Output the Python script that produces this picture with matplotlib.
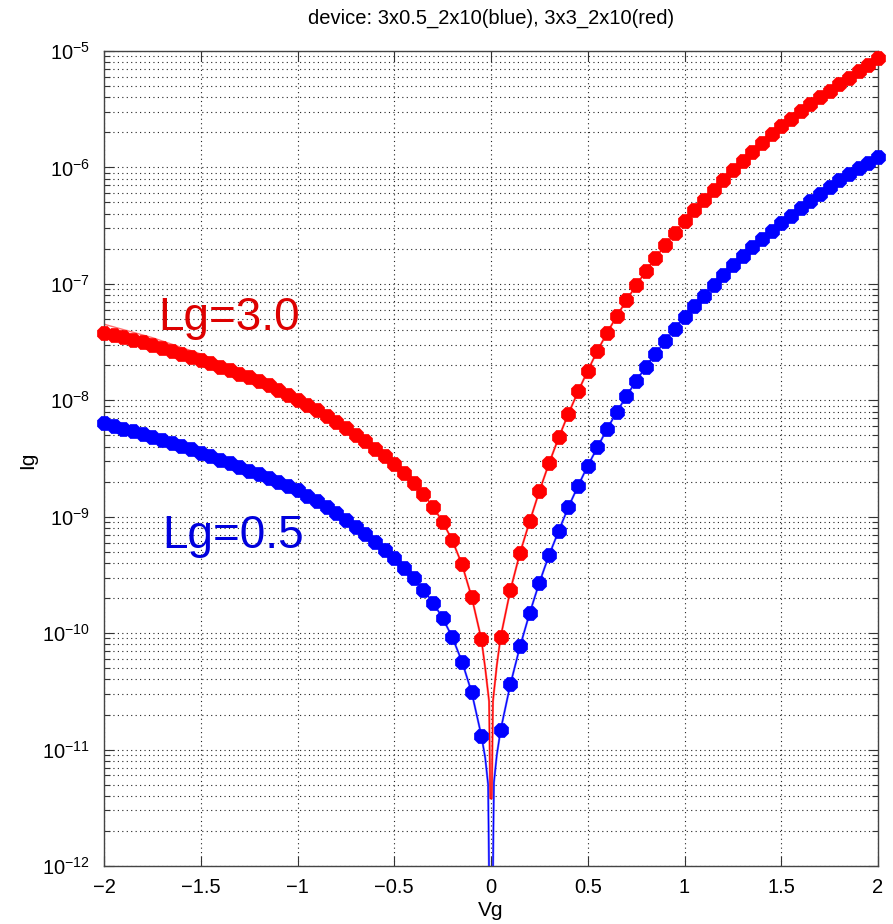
import numpy as np
import matplotlib
matplotlib.use('Agg')
import matplotlib.pyplot as plt
from matplotlib.ticker import LogLocator, FixedLocator, FixedFormatter, NullFormatter

plt.rcParams['font.family'] = ['Liberation Sans', 'DejaVu Sans']
plt.rcParams['mathtext.fontset'] = 'custom'
plt.rcParams['mathtext.rm'] = 'Liberation Sans'
plt.rcParams['mathtext.it'] = 'Liberation Sans:italic'

# gate voltage, negative and positive branches (0 V not measured)
vg_neg = [-2.00, -1.95, -1.90, -1.85, -1.80, -1.75, -1.70, -1.65, -1.60, -1.55,
          -1.50, -1.45, -1.40, -1.35, -1.30, -1.25, -1.20, -1.15, -1.10, -1.05,
          -1.00, -0.95, -0.90, -0.85, -0.80, -0.75, -0.70, -0.65, -0.60, -0.55,
          -0.50, -0.45, -0.40, -0.35, -0.30, -0.25, -0.20, -0.15, -0.10, -0.05]
vg_pos = [0.05, 0.10, 0.15, 0.20, 0.25, 0.30, 0.35, 0.40, 0.45, 0.50,
          0.55, 0.60, 0.65, 0.70, 0.75, 0.80, 0.85, 0.90, 0.95, 1.00,
          1.05, 1.10, 1.15, 1.20, 1.25, 1.30, 1.35, 1.40, 1.45, 1.50,
          1.55, 1.60, 1.65, 1.70, 1.75, 1.80, 1.85, 1.90, 1.95, 2.00]

# Lg=3.0 (red)
ig_red_neg = [3.80e-8, 3.64e-8, 3.48e-8, 3.31e-8, 3.15e-8, 2.99e-8, 2.82e-8, 2.67e-8, 2.52e-8, 2.37e-8,
              2.23e-8, 2.09e-8, 1.95e-8, 1.82e-8, 1.69e-8, 1.57e-8, 1.45e-8, 1.34e-8, 1.22e-8, 1.12e-8,
              1.01e-8, 9.14e-9, 8.20e-9, 7.33e-9, 6.52e-9, 5.77e-9, 5.07e-9, 4.43e-9, 3.84e-9, 3.30e-9,
              2.81e-9, 2.36e-9, 1.94e-9, 1.56e-9, 1.22e-9, 9.04e-10, 6.25e-10, 3.89e-10, 2.04e-10, 8.9e-11]
ig_red_pos = [9.3e-11, 2.34e-10, 4.90e-10, 9.12e-10, 1.66e-9, 2.88e-9, 4.79e-9, 7.67e-9, 1.19e-8, 1.80e-8,
              2.66e-8, 3.80e-8, 5.28e-8, 7.23e-8, 9.70e-8, 1.28e-7, 1.67e-7, 2.15e-7, 2.74e-7, 3.44e-7,
              4.27e-7, 5.26e-7, 6.44e-7, 7.83e-7, 9.46e-7, 1.14e-6, 1.36e-6, 1.62e-6, 1.92e-6, 2.27e-6,
              2.63e-6, 3.03e-6, 3.48e-6, 3.99e-6, 4.56e-6, 5.20e-6, 5.92e-6, 6.71e-6, 7.62e-6, 8.63e-6]

# Lg=0.5 (blue)
ig_blue_neg = [6.32e-9, 6.01e-9, 5.70e-9, 5.41e-9, 5.12e-9, 4.83e-9, 4.56e-9, 4.30e-9, 4.04e-9, 3.78e-9,
               3.54e-9, 3.31e-9, 3.09e-9, 2.88e-9, 2.69e-9, 2.49e-9, 2.31e-9, 2.14e-9, 1.98e-9, 1.83e-9,
               1.69e-9, 1.52e-9, 1.36e-9, 1.21e-9, 1.07e-9, 9.40e-10, 8.18e-10, 7.08e-10, 6.08e-10, 5.19e-10,
               4.40e-10, 3.63e-10, 2.95e-10, 2.36e-10, 1.83e-10, 1.35e-10, 9.2e-11, 5.7e-11, 3.1e-11, 1.32e-11]
ig_blue_pos = [1.48e-11, 3.63e-11, 7.7e-11, 1.49e-10, 2.72e-10, 4.68e-10, 7.57e-10, 1.21e-9, 1.84e-9, 2.74e-9,
               3.94e-9, 5.69e-9, 7.91e-9, 1.09e-8, 1.46e-8, 1.94e-8, 2.51e-8, 3.23e-8, 4.11e-8, 5.22e-8,
               6.44e-8, 7.89e-8, 9.72e-8, 1.20e-7, 1.45e-7, 1.74e-7, 2.06e-7, 2.43e-7, 2.84e-7, 3.31e-7,
               3.84e-7, 4.44e-7, 5.11e-7, 5.89e-7, 6.79e-7, 7.76e-7, 8.75e-7, 9.82e-7, 1.10e-6, 1.22e-6]

# fitted curve near 0 V and at the left end (red)
vg_center = [-0.03, -0.01, -0.004, 0.004, 0.01, 0.03]
fit_red_center = [5.0e-11, 2.6e-11, 3.8e-12, 3.8e-12, 2.6e-11, 5.3e-11]
vg_center_b = [-0.03, -0.015, -0.004, 0.004, 0.015, 0.03]
fit_blue_center = [8.5e-12, 5.0e-12, 1e-13, 1e-13, 5.2e-12, 9e-12]
vg_fit_left = [-2.0, -1.75, -1.5, -1.25, -1.0]
fit_red_left = [4.5e-8, 3.45e-8, 2.5e-8, 1.6e-8, 1.01e-8]

xticks = [-2, -1.5, -1, -0.5, 0, 0.5, 1, 1.5, 2]
xtick_labels = ['\u22122', '\u22121.5', '\u22121', '\u22120.5', '0', '0.5', '1', '1.5', '2']
yticks = [1e-12, 1e-11, 1e-10, 1e-9, 1e-8, 1e-7, 1e-6, 1e-5]

title = 'device: 3x0.5_2x10(blue), 3x3_2x10(red)'

fig = plt.figure(figsize=(8.93, 9.24), dpi=100)
ax = fig.add_axes([0.1165, 0.0628, 0.8667, 0.8820])

red = '#ff0000'
blue = '#0000ff'

# connecting / fit lines
ax.plot(vg_fit_left, fit_red_left, color='#ff7070', lw=1.0, zorder=2)
ax.plot(vg_neg + vg_center + vg_pos, ig_red_neg + fit_red_center + ig_red_pos,
        color='#ff7070', lw=1.6, zorder=2)
ax.plot(vg_neg + vg_center + vg_pos, ig_red_neg + fit_red_center + ig_red_pos,
        color=red, lw=0.8, zorder=3)
ax.plot(vg_neg + vg_center_b + vg_pos, ig_blue_neg + fit_blue_center + ig_blue_pos,
        color='#7070ff', lw=1.6, zorder=2)
ax.plot(vg_neg + vg_center_b + vg_pos, ig_blue_neg + fit_blue_center + ig_blue_pos,
        color=blue, lw=0.8, zorder=3)

# measured points
ax.plot(vg_neg + vg_pos, ig_red_neg + ig_red_pos, ls='none', marker='8', ms=10.5,
        color=red, mec=red, mew=0.5, zorder=4, clip_on=False)
ax.plot(vg_neg + vg_pos, ig_blue_neg + ig_blue_pos, ls='none', marker='8', ms=10.5,
        color=blue, mec=blue, mew=0.5, zorder=4, clip_on=False)

ax.set_yscale('log')
ax.set_xlim(-2, 2)
ax.set_ylim(1e-12, 1e-5)

ax.xaxis.set_major_locator(FixedLocator(xticks))
ax.xaxis.set_major_formatter(FixedFormatter(xtick_labels))
ax.yaxis.set_major_locator(FixedLocator(yticks))
ax.yaxis.set_minor_locator(LogLocator(base=10, subs=np.arange(2, 10), numticks=100))
ax.yaxis.set_minor_formatter(NullFormatter())

dots = (0, (1, 3))
ax.grid(True, which='major', ls=dots, color='#222222', lw=0.8)
ax.grid(True, which='minor', axis='y', ls=dots, color='#222222', lw=0.8)
ax.set_axisbelow(True)

ax.tick_params(which='both', direction='in', top=True, right=True, labelsize=14.5,
               color='#333333')
ax.tick_params(which='major', length=7, width=0.8)
ax.tick_params(which='minor', length=4, width=0.8)
ax.tick_params(axis='y', pad=10)
ax.tick_params(axis='x', pad=9)
for s in ax.spines.values():
    s.set_color('#444444')
    s.set_linewidth(1.0)

ax.text(-1.72, 4.0e-8, 'Lg=3.0', color='#dd0000', fontsize=33,
        ha='left', va='baseline', zorder=5)
ax.text(-1.70, 5.4e-10, 'Lg=0.5', color='#0000dd', fontsize=33,
        ha='left', va='baseline', zorder=5)

fig.text(491 / 893, 1 - 18 / 924, title, ha='center', va='center', fontsize=14.5)
fig.text(491 / 893, 1 - 910 / 924, 'Vg', ha='center', va='center', fontsize=15)
fig.text(28 / 893, 1 - 460 / 924, 'Ig', ha='center', va='center', fontsize=15, rotation=90)

fig.savefig('out.png', dpi=100)
